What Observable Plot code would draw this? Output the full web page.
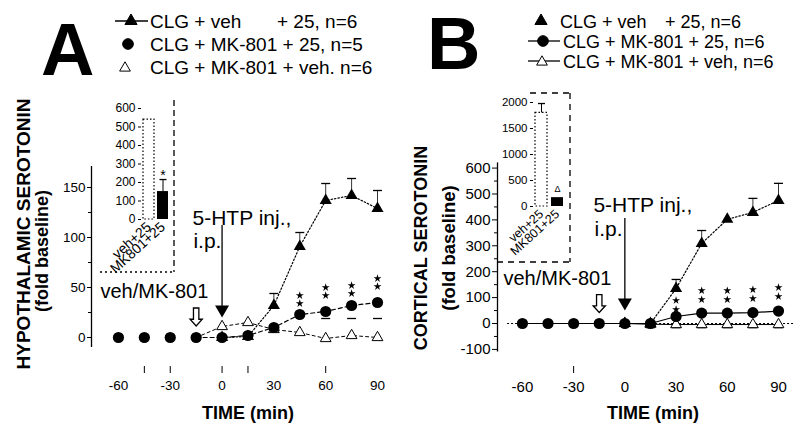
<!DOCTYPE html>
<html><head><meta charset="utf-8">
<script src="https://cdn.jsdelivr.net/npm/d3@7"></script>
<script src="https://cdn.jsdelivr.net/npm/@observablehq/plot@0.6"></script>
<style>
html,body{margin:0;padding:0;background:#fff;}
#root{position:relative;width:800px;height:432px;overflow:hidden;font-family:"Liberation Sans",Arial,sans-serif;}
#root svg{position:absolute;left:0;top:0;max-width:none;}
</style></head><body><div id="root"></div>
<script>
// ---------- data ----------
const times = [-60,-45,-30,-15,0,15,30,45,60,75,90];
const xTickLabels = [-60,-30,0,30,60,90];
const injectionTimes = [-15, 0]; // veh/MK-801, 5-HTP

// Panel A: hypothalamic serotonin (fold baseline)
const vehA   = [0,0,0,0,0,1,32,91,137,142,129];     // CLG + veh + 25
const mkA    = [0,0,0,0,0,2,10,23,26,32,35];        // CLG + MK-801 + 25
const mkVehA = [0,0,0,0,11,15,8,5,-1,2,0];          // CLG + MK-801 + veh
const errVehA_t  = [30,45,60,75,90];
const errVehA_hi = [44,105,154,159,147];
const errMkA_t  = [60,75,90];
const errMkA_lo = [19,19,19];
const starA_t = [45,60,75,90];
const starA_v = [42,50,52,59];
const yTicksA = [0,50,100,150];
const yMinorA = [25,75,125];
const xTickMarksA = [-45,-30,0,15,60];

// Panel B: cortical serotonin (fold baseline)
const vehB   = [0,0,0,0,0,0,135,309,402,429,475];
const mkB    = [0,0,0,0,0,0,27,40,40,42,48];
const mkVehB = [0,0,0,0,0,-3,-4,-4,-4,-4,-4];
const errVehB_t  = [30,45,75,90];
const errVehB_hi = [170,359,483,541];
const errMkVehB_t  = [15,30,45,60,75,90];
const errMkVehB_lo = [-16,-16,-16,-16,-16,-16];
const starB_t = [30,45,60,75,90];
const starB_v = [89,127,127,131,139];
const yTicksB = [-100,0,100,200,300,400,500,600];
const yMinorB = [-50,50,150,250,350,450,550];
const xTickMarksB = [-30];

// Insets: total response
const insetCats = ["veh+25","MK801+25"];
const insetA = [540,151];
const insetAErr = [null,216];
const insetATicks = [0,100,200,300,400,500,600];
const insetB = [1800,170];
const insetBErr = [1980,null];
const insetBTicks = [0,500,1000,1500,2000];

// ---------- helpers ----------
const FONT = '"Liberation Sans", Arial, sans-serif';
const rows = (vals) => times.map((t,i)=>({t, v: vals[i]}));
const pairs = (ts, vs, key="v") => ts.map((t,i)=>({t, [key]: vs[i]}));
const capSym = {draw(ctx, size){ const w = Math.sqrt(size/Math.PI); ctx.moveTo(-w,0); ctx.lineTo(w,0); }};
const hollowArrow = {draw(ctx, size){
  const r = Math.sqrt(size/Math.PI);
  ctx.moveTo(-0.3*r,-r); ctx.lineTo(-0.3*r,0.25*r); ctx.lineTo(-0.68*r,0.25*r);
  ctx.lineTo(0,r); ctx.lineTo(0.68*r,0.25*r); ctx.lineTo(0.3*r,0.25*r); ctx.lineTo(0.3*r,-r); ctx.closePath();
}};
const root = document.getElementById("root");
const baseStyle = {background:"transparent", fontFamily:FONT, overflow:"visible"};

function seriesMarks(cfg){
  const {veh, mk, mkVeh, lineStart, errVeh, errMkLo, errMkVehLo, stars, starDy, mkDash, mkVehDash} = cfg;
  const vehRows = rows(veh);
  const errRows = errVeh.map(d=>({t:d.t, hi:d.v, v: vehRows.find(r=>r.t===d.t).v}));
  const m = [
    Plot.line(rows(mkVeh).filter(d=>d.t>=lineStart.mkVeh), {x:"t", y:"v", stroke:"black", strokeWidth:1, strokeDasharray:mkVehDash}),
    Plot.line(vehRows.filter(d=>d.t>=lineStart.veh), {x:"t", y:"v", stroke:"black", strokeWidth:1.2, strokeDasharray:"1.5,2"}),
    Plot.line(rows(mk).filter(d=>d.t>=lineStart.mk), {x:"t", y:"v", stroke:"black", strokeWidth:1.2, strokeDasharray:mkDash}),
    Plot.ruleX(errRows, {x:"t", y1:"v", y2:"hi", stroke:"black", strokeWidth:0.8}),
    Plot.dot(errRows, {x:"t", y:"hi", symbol:capSym, r:4.5, stroke:"black", fill:"none", strokeWidth:1.3}),
  ];
  if (errMkLo) m.push(Plot.dot(errMkLo, {x:"t", y:"v", symbol:capSym, r:4.5, stroke:"black", fill:"none", strokeWidth:1.3}));
  if (errMkVehLo) m.push(Plot.dot(errMkVehLo, {x:"t", y:"v", symbol:capSym, r:4.5, stroke:"black", fill:"none", strokeWidth:1.3}));
  m.push(
    Plot.dot(rows(mkVeh).filter(d=>d.t>=0), {x:"t", y:"v", symbol:"triangle", r:4, fill:"white", stroke:"black", strokeWidth:1}),
    Plot.dot(vehRows.filter(d=>d.t>=0), {x:"t", y:"v", symbol:"triangle", r:4.5, fill:"black"}),
    Plot.dot(rows(mk), {x:"t", y:"v", r:5.6, fill:"black"}),
    Plot.dot(stars, {x:"t", y:"v", symbol:"star", r:2.5, fill:"black"}),
    Plot.dot(stars, {x:"t", y:"v", symbol:"star", r:2.5, fill:"black", dy:starDy})
  );
  return m;
}

// ---------- Panel A ----------
const xDomA = [-75.6, 90], yDomA = [-10, 171];
const plotA = Plot.plot({
  width:800, height:432, marginLeft:91, marginRight:423, marginTop:166, marginBottom:85,
  x:{domain:xDomA, axis:null},
  y:{domain:yDomA},
  style:{...baseStyle, fontSize:"13.5px"},
  marks:[
    Plot.ruleX([xDomA[0]], {y1:yDomA[0], y2:yDomA[1], stroke:"black", strokeWidth:1.3}),
    Plot.axisY({ticks:yTicksA, tickSize:4, tickPadding:2, tickFormat:d=>String(d), fontSize:13.5, label:null}),
    Plot.axisY({ticks:yMinorA, tickSize:3, text:null, label:null}),
    Plot.ruleX(xTickMarksA, {y1:-29, y2:-36, stroke:"black"}),
    Plot.text(xTickLabels, {x:d=>d, y:-48, text:d=>String(d), fontSize:13.5}),
    ...seriesMarks({
      veh:vehA, mk:mkA, mkVeh:mkVehA, lineStart:{veh:0, mk:-15, mkVeh:-15},
      errVeh:pairs(errVehA_t, errVehA_hi), errMkLo:pairs(errMkA_t, errMkA_lo),
      stars:pairs(starA_t, starA_v), starDy:8, mkDash:"4,3", mkVehDash:"3,3"
    }),
    // injection arrows
    Plot.ruleX([injectionTimes[1]], {y1:112, y2:26, stroke:"black", strokeWidth:1.3}),
    Plot.dot([injectionTimes[1]], {x:d=>d, y:28, symbol:"triangle", rotate:180, r:5.2, fill:"black"}),
    Plot.dot([injectionTimes[0]], {x:d=>d, y:20.5, symbol:hollowArrow, r:9, fill:"white", stroke:"black", strokeWidth:1.3}),
    Plot.text(["5-HTP inj.,"], {x:-17.1, y:119.5, text:d=>d, textAnchor:"start", lineAnchor:"middle", fontSize:21}),
    Plot.text(["i.p."], {x:-16.6, y:96, text:d=>d, textAnchor:"start", lineAnchor:"middle", fontSize:21}),
    Plot.text(["veh/MK-801"], {x:-70.4, y:45.5, text:d=>d, textAnchor:"start", lineAnchor:"middle", fontSize:20})
  ]
});

// ---------- Panel B ----------
const xDomB = [-74.6, 90], yDomB = [-110, 620];
const plotB = Plot.plot({
  width:800, height:432, marginLeft:497, marginRight:22, marginTop:162.4, marginBottom:80.5,
  x:{domain:xDomB, axis:null},
  y:{domain:yDomB},
  style:{...baseStyle, fontSize:"15px"},
  marks:[
    Plot.ruleX([xDomB[0]], {y1:yDomB[0], y2:yDomB[1], stroke:"black", strokeWidth:1.3}),
    Plot.axisY({ticks:yTicksB, tickSize:5, tickPadding:2, tickFormat:d=>String(d), fontSize:15, label:null}),
    Plot.axisY({ticks:yMinorB, tickSize:3, text:null, label:null}),
    Plot.ruleY([0], {x1:-68.7, x2:100, stroke:"black", strokeDasharray:"2,2"}),
    Plot.ruleX(xTickMarksB, {y1:-166, y2:-193, stroke:"black"}),
    Plot.text(xTickLabels, {x:d=>d, y:-247, text:d=>String(d), fontSize:15}),
    ...seriesMarks({
      veh:vehB, mk:mkB, mkVeh:mkVehB, lineStart:{veh:0, mk:-60, mkVeh:-60},
      errVeh:pairs(errVehB_t, errVehB_hi), errMkVehLo:pairs(errMkVehB_t, errMkVehB_lo),
      stars:pairs(starB_t, starB_v), starDy:9, mkDash:null, mkVehDash:null
    }),
    Plot.ruleX([injectionTimes[1]], {y1:405, y2:70, stroke:"black", strokeWidth:1.3}),
    Plot.dot([injectionTimes[1]], {x:d=>d, y:81, symbol:"triangle", rotate:180, r:5.2, fill:"black"}),
    Plot.dot([injectionTimes[0]], {x:d=>d, y:77, symbol:hollowArrow, r:9, fill:"white", stroke:"black", strokeWidth:1.3}),
    Plot.text(["5-HTP inj.,"], {x:-18.4, y:457.5, text:d=>d, textAnchor:"start", lineAnchor:"middle", fontSize:21}),
    Plot.text(["i.p."], {x:-17.8, y:363, text:d=>d, textAnchor:"start", lineAnchor:"middle", fontSize:21}),
    Plot.text(["veh/MK-801"], {x:-71.1, y:172, text:d=>d, textAnchor:"start", lineAnchor:"middle", fontSize:20})
  ]
});

// ---------- insets ----------
function inset(cfg){
  const data = insetCats.map((c,i)=>({c, v:cfg.vals[i], e:cfg.errs[i]}));
  const errs = data.filter(d=>d.e!=null);
  return Plot.plot({
    width:800, height:432, marginLeft:cfg.ml, marginRight:cfg.mr, marginTop:cfg.mt, marginBottom:cfg.mb,
    x:{domain:insetCats, paddingInner:0.25, paddingOuter:0.1, axis:null},
    y:{domain:cfg.ydom},
    style:{...baseStyle, fontSize:cfg.fs+"px"},
    marks:[
      Plot.axisY({ticks:cfg.ticks, tickSize:3, tickPadding:3, tickFormat:d=>String(d), fontSize:cfg.fs, label:null}),
      Plot.barY(data.filter(d=>d.c===insetCats[0]), {x:"c", y:"v", fill:"white", stroke:"black", strokeWidth:1.2, strokeDasharray:"1.5,2"}),
      Plot.barY(data.filter(d=>d.c===insetCats[1]), {x:"c", y:"v", fill:"black"}),
      Plot.ruleX(errs, {x:"c", y1:"v", y2:"e", stroke:"black"}),
      Plot.dot(errs, {x:"c", y:"e", symbol:capSym, r:3.5, stroke:"black", fill:"none", strokeWidth:1.3}),
      Plot.text([insetCats[1]], {x:d=>d, y:cfg.sigY, text:()=>cfg.sig, fontSize:cfg.sigFs, lineAnchor:"middle"}),
      Plot.text(insetCats, {x:d=>d, y:cfg.labY, text:d=>d, rotate:-42, textAnchor:"end", fontSize:cfg.labFs})
    ]
  });
}
const insetPlotA = inset({vals:insetA, errs:insetAErr, ydom:[0,600], ticks:insetATicks,
  ml:141, mr:631, mt:108, mb:213, fs:12, sig:"*", sigY:240, sigFs:14, labY:-30, labFs:14});
const insetPlotB = inset({vals:insetB, errs:insetBErr, ydom:[0,2000], ticks:insetBTicks,
  ml:533, mr:235, mt:102, mb:226, fs:11.5, sig:"\u0394", sigY:330, sigFs:9, labY:-110, labFs:12.5});

root.append(insetPlotA, insetPlotB, plotA, plotB);

// ---------- overlay: panel letters, legends, axis titles, inset frames ----------
const svg = d3.create("svg").attr("width",800).attr("height",432).style("font-family",FONT);
const T = (x,y,s,attrs={}) => { const t = svg.append("text").attr("x",x).attr("y",y).text(s); for (const k in attrs) t.attr(k, attrs[k]); return t; };
T(41,75,"A",{"font-size":74,"font-weight":"bold"});
T(427,69,"B",{"font-size":74,"font-weight":"bold"});

const sym = (type, size, x, y, fill) => svg.append("path").attr("d", d3.symbol(type, size)()).attr("transform",`translate(${x},${y})`).attr("fill",fill).attr("stroke","black").attr("stroke-width",1);
const hline = (x1,x2,y) => svg.append("line").attr("x1",x1).attr("x2",x2).attr("y1",y).attr("y2",y).attr("stroke","black").attr("stroke-width",1.3);

// legend A
const legA = [28,51,74];
hline(115,148,legA[0]-7); sym(d3.symbolTriangle, 64, 131, legA[0]-7, "black");
sym(d3.symbolCircle, 90, 128, legA[1]-7, "black");
sym(d3.symbolTriangle, 50, 125, legA[2]-6, "white");
T(150,legA[0],"CLG + veh",{"font-size":19}); T(277,legA[0],"+ 25, n=6",{"font-size":19});
T(150,legA[1],"CLG + MK-801 + 25, n=5",{"font-size":19});
T(150,legA[2],"CLG + MK-801 + veh. n=6",{"font-size":19});

// legend B
const legB = [28,48,68];
sym(d3.symbolTriangle, 64, 541, legB[0]-7, "black");
hline(528,560,legB[1]-7); sym(d3.symbolCircle, 90, 543, legB[1]-7, "black");
hline(528,560,legB[2]-7); sym(d3.symbolTriangle, 50, 542, legB[2]-6, "white");
T(560,legB[0],"CLG + veh",{"font-size":18}); T(665,legB[0],"+ 25, n=6",{"font-size":18});
T(563,legB[1],"CLG + MK-801 + 25, n=6",{"font-size":18});
T(563,legB[2],"CLG + MK-801 + veh, n=6",{"font-size":18});

// axis titles
const VT = (x,y,s,fs) => T(x,y,s,{"font-size":fs,"font-weight":"bold","text-anchor":"middle","dominant-baseline":"central",transform:`rotate(-90,${x},${y})`});
VT(23,234,"HYPOTHALAMIC SEROTONIN",19);
VT(42,251,"(fold baseline)",18);
VT(421,248,"CORTICAL SEROTONIN",18);
VT(448,248,"(fold baseline)",18.5);
T(248,419,"TIME (min)",{"font-size":18,"font-weight":"bold","text-anchor":"middle"});
T(653,419,"TIME (min)",{"font-size":18,"font-weight":"bold","text-anchor":"middle"});

// inset frames
const dl = (x1,y1,x2,y2,dash) => svg.append("line").attr("x1",x1).attr("y1",y1).attr("x2",x2).attr("y2",y2).attr("stroke","black").attr("stroke-width",1.3).attr("stroke-dasharray",dash);
dl(174,100,174,272,"6,4"); dl(100,272,174,272,"2,3");
dl(530,93,572,93,"6,5"); dl(570,93,570,262,"6,5"); dl(497,262,570,262,"6,5");

root.append(svg.node());
</script></body></html>
